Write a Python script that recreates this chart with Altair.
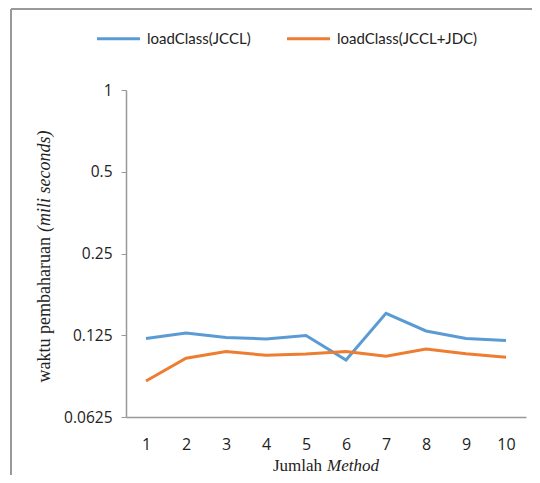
import altair as alt
import pandas as pd

methods = [1, 2, 3, 4, 5, 6, 7, 8, 9, 10]
jccl = [0.1216, 0.1274, 0.1226, 0.1212, 0.1247, 0.1013, 0.1506, 0.1296, 0.1216, 0.1195]
jccl_jdc = [0.0848, 0.1029, 0.1088, 0.1055, 0.1066, 0.1088, 0.1046, 0.1112, 0.1069, 0.1038]
series_names = ["loadClass(JCCL)", "loadClass(JCCL+JDC)"]
series_colors = ["#5B9BD5", "#ED7D31"]
y_ticks = [0.0625, 0.125, 0.25, 0.5, 1]

rows = []
for m, a, b in zip(methods, jccl, jccl_jdc):
    rows.append({"method": m, "series": series_names[0], "value": a})
    rows.append({"method": m, "series": series_names[1], "value": b})
df = pd.DataFrame(rows)

W, H = 400, 327

lines = alt.Chart(df).mark_line(strokeWidth=3).encode(
    x=alt.X("method:O", scale=alt.Scale(type="point", padding=0.5),
            axis=alt.Axis(title=None, labelAngle=0, tickSize=0, labelPadding=19,
                          labelFontSize=16, labelFont="Open Sans", labelColor="#222",
                          domainColor="#999", domainWidth=1.5)),
    y=alt.Y("value:Q", scale=alt.Scale(type="log", base=2, domain=[0.0625, 1]),
            axis=alt.Axis(title=None, values=y_ticks, format="~g", grid=False,
                          tickSize=5, tickColor="#999", labelPadding=9,
                          labelFontSize=15.5, labelFont="Open Sans", labelColor="#222",
                          domainColor="#999", domainWidth=1.5)),
    color=alt.Color("series:N", scale=alt.Scale(domain=series_names, range=series_colors),
                    legend=alt.Legend(title=None, orient="none", direction="horizontal",
                                      legendX=-31, legendY=-75,
                                      symbolType="stroke", symbolSize=1850,
                                      symbolStrokeWidth=3, labelFontSize=15,
                                      labelFont="Lato", labelColor="#222",
                                      labelOffset=5, columnPadding=29)),
)

ytitle_a = alt.Chart(pd.DataFrame({"t": ["waktu pembaharuan"]})).mark_text(
    angle=270, align="right", baseline="middle", font="Liberation Serif", fontSize=18,
    color="#222").encode(text="t:N", x=alt.value(-81), y=alt.value(147))
ytitle_b = alt.Chart(pd.DataFrame({"t": ["(mili seconds)"]})).mark_text(
    angle=270, align="left", baseline="middle", font="Liberation Serif", fontSize=18,
    fontStyle="italic", color="#222").encode(text="t:N", x=alt.value(-81), y=alt.value(142))
xtitle_a = alt.Chart(pd.DataFrame({"t": ["Jumlah"]})).mark_text(
    align="right", baseline="alphabetic", font="Liberation Serif", fontSize=17,
    color="#222").encode(text="t:N", x=alt.value(196), y=alt.value(381))
xtitle_b = alt.Chart(pd.DataFrame({"t": ["Method"]})).mark_text(
    align="left", baseline="alphabetic", font="Liberation Serif", fontSize=17,
    fontStyle="italic", color="#222").encode(text="t:N", x=alt.value(201), y=alt.value(381))

frame_left = alt.Chart(pd.DataFrame({"k": [0]})).mark_rule(color="#999", strokeWidth=2).encode(
    x=alt.value(-115), y=alt.value(-81), y2=alt.value(400))
frame_top = alt.Chart(pd.DataFrame({"k": [0]})).mark_rule(color="#999", strokeWidth=2).encode(
    x=alt.value(-115), x2=alt.value(420), y=alt.value(-81))

chart = alt.layer(frame_left, frame_top, lines, ytitle_a, ytitle_b, xtitle_a, xtitle_b).properties(
    width=W, height=H,
    autosize=alt.AutoSizeParams(type="none"),
    padding={"left": 118, "top": 82, "right": 6, "bottom": 58},
).configure(background="white", view=alt.ViewConfig(strokeWidth=0, stroke="transparent"))

chart.save("out.html", embed_options={"renderer": "svg", "actions": False})
